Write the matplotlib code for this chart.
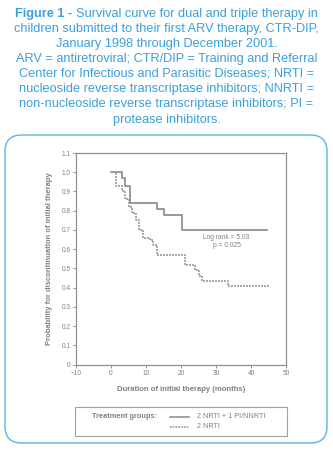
import matplotlib
matplotlib.use('Agg')
import matplotlib.pyplot as plt
from matplotlib.patches import FancyBboxPatch, Rectangle
from matplotlib.lines import Line2D

# survival steps (months, probability)
t_triple = [0, 3, 4, 5.5, 13, 15, 20.2, 44.5]
s_triple = [1.0, 0.97, 0.93, 0.84, 0.81, 0.78, 0.70, 0.70]

t_dual = [0, 1.5, 3, 4, 5, 6, 7, 8, 9, 11, 12, 13, 21, 24, 25, 26, 33.5, 45.4]
s_dual = [1.0, 0.93, 0.90, 0.86, 0.82, 0.79, 0.75, 0.70, 0.66, 0.65, 0.62,
          0.57, 0.52, 0.49, 0.46, 0.435, 0.41, 0.41]

x_ticks = [-10, 0, 10, 20, 30, 40, 50]
y_ticks = [0, 0.1, 0.2, 0.3, 0.4, 0.5, 0.6, 0.7, 0.8, 0.9, 1.0, 1.1]
y_labels = ['0', '0.1', '0.2', '0.3', '0.4', '0.5', '0.6', '0.7', '0.8', '0.9', '1.0', '1.1']

title_bold = 'Figure 1 - '
title_lines = [
    'Survival curve for dual and triple therapy in',
    'children submitted to their first ARV therapy, CTR-DIP,',
    'January 1998 through December 2001.',
    'ARV = antiretroviral; CTR/DIP = Training and Referral',
    'Center for Infectious and Parasitic Diseases; NRTI =',
    'nucleoside reverse transcriptase inhibitors; NNRTI =',
    'non-nucleoside reverse transcriptase inhibitors; PI =',
    'protease inhibitors.',
]

W, H = 333, 454
blue = '#3a9fdc'
grey = '#808080'
plt.rcParams['font.family'] = ['Liberation Sans', 'DejaVu Sans']

fig = plt.figure(figsize=(W / 100, H / 100), dpi=100)

def fx(px):
    return px / W

def fy(py):
    return 1 - py / H

# caption
fs = 9.2
renderer = fig.canvas.get_renderer()
line_y = [14, 29, 44, 59, 74, 89, 104, 120]
tb = fig.text(0, fy(line_y[0]), title_bold, fontsize=fs, color=blue, weight='bold', va='center')
tn = fig.text(0, fy(line_y[0]), title_lines[0], fontsize=fs, color=blue, va='center')
wb = tb.get_window_extent(renderer).width
wn = tn.get_window_extent(renderer).width
x0 = (W - wb - wn) / 2
tb.set_x(fx(x0))
tn.set_x(fx(x0 + wb))
for yy, txt in zip(line_y[1:], title_lines[1:]):
    fig.text(0.5, fy(yy), txt, fontsize=fs, color=blue, ha='center', va='center')

# rounded frame
frame = FancyBboxPatch((fx(5), fy(443)), fx(322), fy(135) - fy(443),
                       boxstyle='round,pad=0,rounding_size=0.05',
                       transform=fig.transFigure, fill=False,
                       edgecolor='#5ab4e6', lw=1.0, mutation_aspect=W / H)
fig.add_artist(frame)

# plot area
ax = fig.add_axes([fx(76), fy(364.7), fx(286) - fx(76), fy(153) - fy(364.7)])
ax.step(t_triple, s_triple, where='post', color='#888888', lw=1.2)
ax.step(t_dual, s_dual, where='post', color='#999999', lw=1.2, linestyle=(0, (1.2, 0.6)))
ax.set_xlim(-10, 50)
ax.set_ylim(0, 1.1)
ax.set_xticks(x_ticks)
ax.set_yticks(y_ticks)
ax.set_yticklabels(y_labels)
ax.tick_params(labelsize=4.7, colors=grey, length=2, width=0.6, pad=2)
for sp in ax.spines.values():
    sp.set_color('#909090')
    sp.set_linewidth(0.9)
ax.set_ylabel('Probability for discontinuation of initial therapy', fontsize=5.5,
              color=grey, weight='bold', labelpad=6)
ax.set_xlabel('Duration of initial therapy (months)', fontsize=5.5,
              color=grey, weight='bold', labelpad=6)
ax.text(33, 0.64, 'Log rank = 5.03\np = 0.025', fontsize=4.8, color=grey,
        ha='center', va='center', linespacing=1.2)

# legend box
fig.add_artist(Rectangle((fx(75), fy(436)), fx(212), fy(407) - fy(436),
                         transform=fig.transFigure, fill=False,
                         edgecolor='#a0a0a0', lw=0.8))
fig.text(fx(125), fy(417), 'Treatment groups:', fontsize=5.3, color=grey,
         weight='bold', ha='center', va='center')
fig.add_artist(Line2D([fx(170), fx(189)], [fy(417), fy(417)], transform=fig.transFigure,
                      color='#888888', lw=1.1))
fig.add_artist(Line2D([fx(170), fx(189)], [fy(427), fy(427)], transform=fig.transFigure,
                      color='#999999', lw=1.1, linestyle=(0, (1.2, 0.6))))
fig.text(fx(197), fy(417), '2 NRTI + 1 PI/NNRTI', fontsize=5.2, color=grey, va='center')
fig.text(fx(197), fy(427), '2 NRTI', fontsize=5.2, color=grey, va='center')

fig.savefig('out.png', dpi=100)
